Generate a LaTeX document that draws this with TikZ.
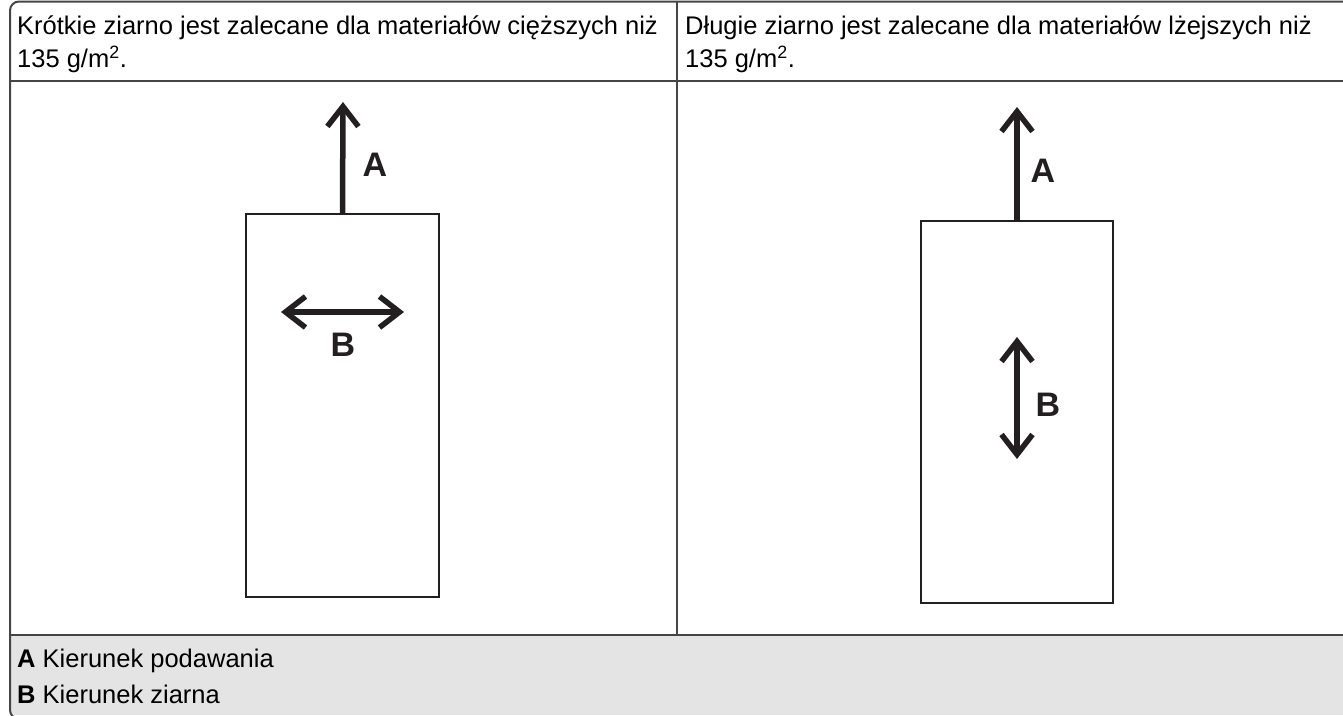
\documentclass[tikz,border=0pt]{standalone}
\usepackage{fontspec}
\setmainfont{Liberation Sans}
\usetikzlibrary{arrows.meta}

\definecolor{inkblack}{HTML}{231F20}
\definecolor{framegrey}{HTML}{454545}
\definecolor{legendgrey}{HTML}{E4E4E4}

\tikzset{
  sheet/.style={draw=inkblack, line width=2.4pt, minimum width=#1, inner sep=0pt},
  grainarrow/.style={draw=inkblack, line width=5.5pt, {Straight Barb[length=20pt,width=31pt]}-{Straight Barb[length=20pt,width=31pt]}},
  feedarrow/.style={draw=inkblack, line width=5.5pt, -{Straight Barb[length=20pt,width=31pt]}},
  letter/.style={font=\fontsize{34}{38}\selectfont\bfseries, text=inkblack, inner sep=0pt},
  headtext/.style={font=\fontsize{25.5}{33}\selectfont, align=left, anchor=north west, inner sep=0pt},
  legendtext/.style={font=\fontsize{25.5}{33}\selectfont, anchor=base west, inner sep=0pt}
}

\begin{document}
\begin{tikzpicture}[x=1pt, y=-1pt]
	\useasboundingbox (0,0) rectangle (1343,715);

	% table: frame, grey legend row, rules
	\fill[legendgrey] (10,635) rectangle (1343,715);
	\draw[framegrey, line width=2pt, rounded corners=9pt] (10,1.5) rectangle (1360,719);
	\draw[framegrey, line width=2pt] (10,81) -- (1343,81);
	\draw[framegrey, line width=2pt] (10,635) -- (1343,635);
	\draw[framegrey, line width=2pt] (677,1.5) -- (677,635);

	% header texts
	\node (headL) at (17,16) [headtext] {Krótkie ziarno jest zalecane dla materiałów cięższych niż\\135 g/m\textsuperscript{2}.};
	\node (headR) at (685,16) [headtext] {Długie ziarno jest zalecane dla materiałów lżejszych niż\\135 g/m\textsuperscript{2}.};

	% left: short grain
	\node (sheetL) at (342.5,405.5) [sheet=193pt, minimum height=383pt] {};
	\coordinate (feedLtip) at (343,102);
	\coordinate (grainLw) at (281,312);
	\coordinate (grainLe) at (404,312);
	\draw[feedarrow] (sheetL.north) -- (feedLtip);
	\draw[grainarrow] (grainLw) -- (grainLe);
	\node (labAL) at (375,165) [letter] {A};
	\node (labBL) at (343,345) [letter] {B};

	% right: long grain
	\node (sheetR) at (1017,412) [sheet=192pt, minimum height=382pt] {};
	\coordinate (feedRtip) at (1017,107);
	\coordinate (grainRn) at (1017,337);
	\coordinate (grainRs) at (1017,459);
	\draw[feedarrow] (sheetR.north) -- (feedRtip);
	\draw[grainarrow] (grainRn) -- (grainRs);
	\node (labAR) at (1043,171) [letter] {A};
	\node (labBR) at (1048,405) [letter] {B};

	% legend
	\node (legA) at (17,667) [legendtext] {\textbf{A} Kierunek podawania};
	\node (legB) at (17,703) [legendtext] {\textbf{B} Kierunek ziarna};
\end{tikzpicture}
\end{document}
